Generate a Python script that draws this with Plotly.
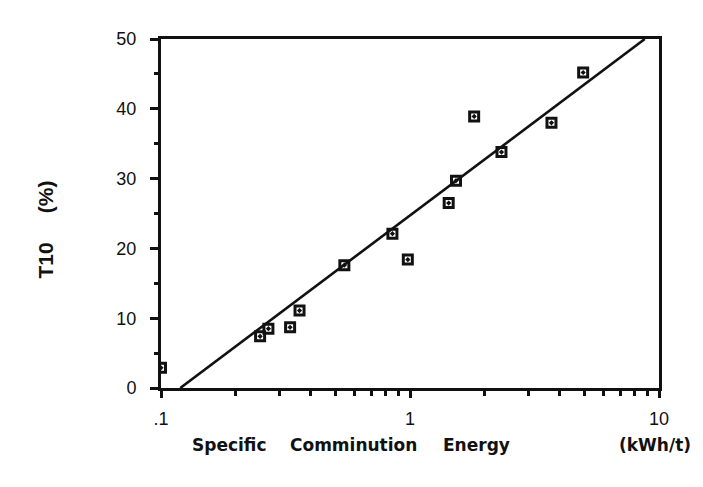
import plotly.graph_objects as go

# Data
energy = [0.10, 0.25, 0.27, 0.33, 0.36, 0.545, 0.85, 0.98, 1.43, 1.53, 1.81, 2.33, 3.70, 4.96]
t10 = [2.9, 7.4, 8.5, 8.7, 11.1, 17.6, 22.1, 18.4, 26.5, 29.7, 38.9, 33.8, 38.0, 45.2]

fit_x = [0.1195, 8.77]
fit_y = [0.0, 50.0]

x_tickvals = [0.1, 1, 10]
x_ticktext = [".1", "1", "10"]
x_minor = [0.2, 0.3, 0.4, 0.5, 0.6, 0.7, 0.8, 0.9, 2, 3, 4, 5, 6, 7, 8, 9]
y_tickvals = [0, 10, 20, 30, 40, 50]

title_words = ["Specific", "Comminution", "Energy", "(kWh/t)"]
title_word_x = [229, 353, 476, 655]  # pixel centres

W, H = 703, 487
L, R, T, B = 161, 44, 39, 99

fig = go.Figure()
fig.add_trace(go.Scatter(x=fit_x, y=fit_y, mode="lines",
                         line=dict(color="#111", width=2.6), showlegend=False))
fig.add_trace(go.Scatter(x=energy, y=t10, mode="markers",
                         marker=dict(symbol="square-open-dot", size=9, color="#111",
                                     line=dict(color="#111", width=3)),
                         showlegend=False))

fig.update_xaxes(type="log", range=[-1, 1], tickvals=x_tickvals, ticktext=x_ticktext,
                 ticks="outside", ticklen=7, tickwidth=2.5, tickcolor="#111",
                 showline=True, linewidth=3, linecolor="#111", mirror=True,
                 showgrid=False, zeroline=False,
                 tickfont=dict(family="Liberation Sans, Arial", size=18, color="#111"),
                 ticklabelstandoff=5,
                 minor=dict(tickvals=x_minor, ticks="outside", ticklen=5, tickwidth=2.5,
                            tickcolor="#111", showgrid=False))
fig.update_yaxes(range=[0, 50], tickvals=y_tickvals,
                 ticks="outside", ticklen=8, tickwidth=2.5, tickcolor="#111",
                 showline=True, linewidth=3, linecolor="#111", mirror=True,
                 showgrid=False, zeroline=False,
                 tickfont=dict(family="Liberation Sans, Arial", size=18, color="#111"),
                 ticklabelstandoff=10,
                 minor=dict(dtick=5, ticks="outside", ticklen=4, tickwidth=2.5,
                            tickcolor="#111", showgrid=False))

annotations = []
for word, px in zip(title_words, title_word_x):
    annotations.append(dict(text=word, xref="paper", yref="paper",
                            x=(px - L) / (W - L - R), y=-(445 - (H - B)) / (H - T - B),
                            showarrow=False, xanchor="center", yanchor="middle",
                            font=dict(family="DejaVu Sans", size=17, color="#111"),
                            ))
annotations.append(dict(text="T10&nbsp;&nbsp;&nbsp;&nbsp;&nbsp;(%)", xref="paper", yref="paper",
                        x=-(L - 45) / (W - L - R), y=(H - B - 229.5) / (H - T - B),
                        textangle=-90, showarrow=False, xanchor="center", yanchor="middle",
                        font=dict(family="Liberation Sans, Arial", size=21, color="#111")))
for a in annotations:
    a["text"] = "<b>" + a["text"] + "</b>"

fig.update_layout(width=W, height=H, margin=dict(l=L, r=R, t=T, b=B),
                  plot_bgcolor="white", paper_bgcolor="white",
                  annotations=annotations)

fig.write_html("out.html")
